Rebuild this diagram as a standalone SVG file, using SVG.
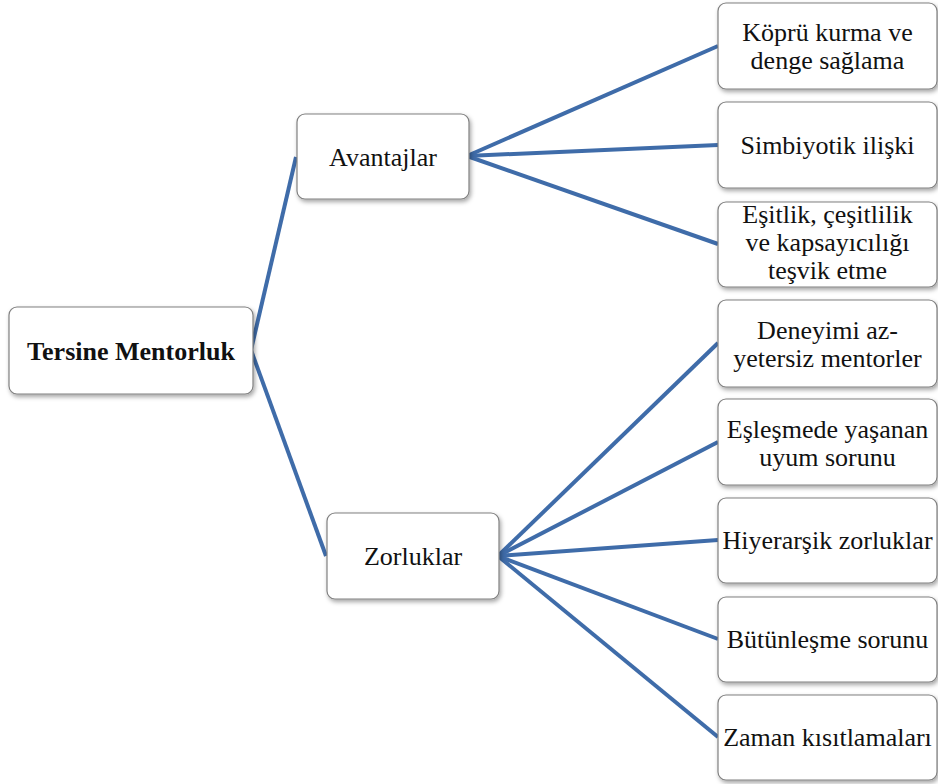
<svg xmlns="http://www.w3.org/2000/svg" width="938" height="784" viewBox="0 0 938 784">
<defs>
<filter id="sh" x="-10%" y="-10%" width="125%" height="130%">
<feDropShadow dx="1.5" dy="2.5" stdDeviation="2" flood-color="#000" flood-opacity="0.35"/>
</filter>
<style>
.box{fill:#fff;stroke:#808080;stroke-width:1.2;filter:url(#sh)}
.t{font-family:'Liberation Serif',Tinos,'DejaVu Serif',serif;font-size:26px;fill:#111;text-anchor:middle}
.b{font-weight:bold}
.c{stroke:#3f6ca9;stroke-width:4;fill:none;stroke-linecap:butt}
</style>
</defs>
<rect width="938" height="784" fill="#fff"/>
<g id="connectors">
<line class="c" x1="251" y1="350" x2="296" y2="157"/>
<line class="c" x1="251" y1="350" x2="326" y2="556"/>
<line class="c" x1="467" y1="156" x2="718" y2="46"/>
<line class="c" x1="467" y1="156" x2="718" y2="145"/>
<line class="c" x1="467" y1="156" x2="718" y2="244"/>
<line class="c" x1="498" y1="556" x2="718" y2="343"/>
<line class="c" x1="498" y1="556" x2="718" y2="442"/>
<line class="c" x1="498" y1="556" x2="718" y2="540"/>
<line class="c" x1="498" y1="556" x2="718" y2="639"/>
<line class="c" x1="498" y1="556" x2="718" y2="737"/>
</g>
<g id="root">
<rect class="box" x="9" y="307" width="244" height="87" rx="8"/>
<text class="t b" x="131" y="360">Tersine Mentorluk</text>
</g>
<g id="avantajlar">
<rect class="box" x="297" y="114" width="172" height="85" rx="8"/>
<text class="t" x="383" y="166">Avantajlar</text>
</g>
<g id="zorluklar">
<rect class="box" x="327" y="513" width="172" height="86" rx="8"/>
<text class="t" x="413" y="565">Zorluklar</text>
</g>
<g id="leaf1">
<rect class="box" x="718" y="3" width="219" height="86" rx="8"/>
<text class="t" x="827.5" y="41">Köprü kurma ve</text>
<text class="t" x="827.5" y="69">denge sağlama</text>
</g>
<g id="leaf2">
<rect class="box" x="718" y="102" width="219" height="86" rx="8"/>
<text class="t" x="827.5" y="154">Simbiyotik ilişki</text>
</g>
<g id="leaf3">
<rect class="box" x="718" y="202" width="219" height="85" rx="8"/>
<text class="t" x="827.5" y="223">Eşitlik, çeşitlilik</text>
<text class="t" x="827.5" y="251">ve kapsayıcılığı</text>
<text class="t" x="827.5" y="279">teşvik etme</text>
</g>
<g id="leaf4">
<rect class="box" x="718" y="300" width="219" height="87" rx="8"/>
<text class="t" x="827.5" y="339">Deneyimi az-</text>
<text class="t" x="827.5" y="367">yetersiz mentorler</text>
</g>
<g id="leaf5">
<rect class="box" x="718" y="399" width="219" height="86" rx="8"/>
<text class="t" x="827.5" y="438">Eşleşmede yaşanan</text>
<text class="t" x="827.5" y="466">uyum sorunu</text>
</g>
<g id="leaf6">
<rect class="box" x="718" y="498" width="219" height="85" rx="8"/>
<text class="t" x="827.5" y="549">Hiyerarşik zorluklar</text>
</g>
<g id="leaf7">
<rect class="box" x="718" y="597" width="219" height="85" rx="8"/>
<text class="t" x="827.5" y="648">Bütünleşme sorunu</text>
</g>
<g id="leaf8">
<rect class="box" x="718" y="695" width="219" height="85" rx="8"/>
<text class="t" x="827.5" y="746">Zaman kısıtlamaları</text>
</g>
</svg>
